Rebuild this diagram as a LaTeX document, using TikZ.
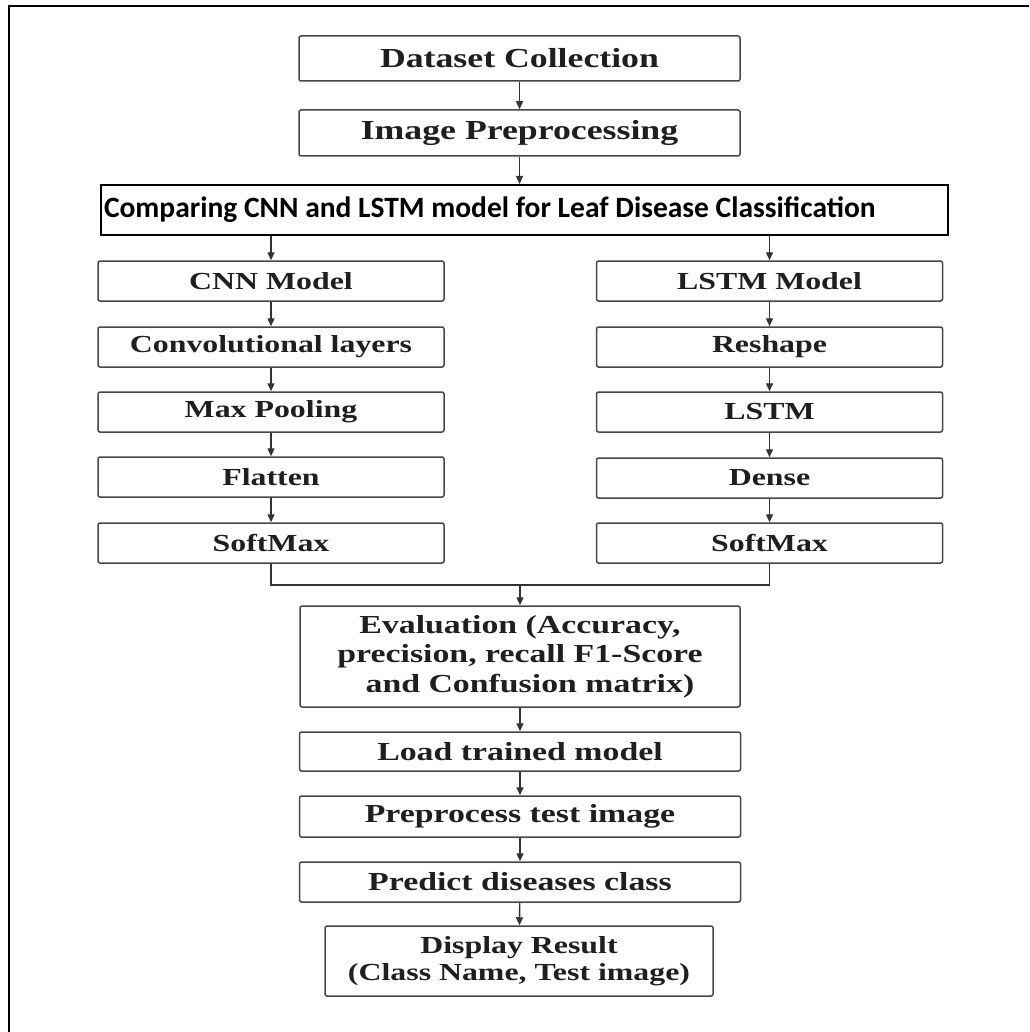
\documentclass[tikz,border=0pt]{standalone}
\usepackage{fontspec}
\setmainfont{Liberation Serif}[FakeStretch=1.3]
\newfontfamily\headfont{Carlito}
\usetikzlibrary{arrows.meta}

\begin{document}
\begin{tikzpicture}[x=1pt, y=-1pt,
  stepbox/.style={draw=black!72, line width=1.5pt, rounded corners=2pt, inner sep=0pt,
    align=center, text=black!88, font=\fontsize{26}{29.5}\selectfont\bfseries},
  widebox/.style={stepbox, minimum width=441pt, minimum height=40pt},
  colbox/.style={stepbox, minimum width=346pt, minimum height=40pt,
    font=\fontsize{24.5}{28}\selectfont\bfseries},
  flow/.style={draw=black!80, line width=1.4pt, -{Triangle[length=8pt, width=7pt]}}]
\useasboundingbox (0,0) rectangle (1029,1032);
\draw [line width=1.8pt] (9,1032) -- (9,6) -- (1029,6);

\node [widebox, minimum height=45pt, font=\fontsize{27.5}{31}\selectfont\bfseries]
  (dataset) at (519.5,58.5) {Dataset Collection};
\node [widebox, minimum height=46pt, font=\fontsize{27.5}{31}\selectfont\bfseries]
  (preproc) at (519.5,133) {Image Preprocessing};
\node [stepbox, draw=black, line width=2pt, sharp corners, minimum height=50pt,
  inner xsep=3pt, text width=841pt, align=flush left,
  font=\headfont\fontsize{29.5}{34}\selectfont\bfseries, text=black] (compare) at (524.5,210)
  {Comparing CNN and LSTM model for Leaf Disease Classification};

\node [colbox] (cnn) at (271,281) {CNN Model};
\node [colbox] (conv) at (271,347) {Convolutional layers};
\node [colbox] (pool) at (271,412) {Max Pooling};
\node [colbox] (flat) at (271,477) {Flatten};
\node [colbox] (smaxl) at (271,543) {SoftMax};

\node [colbox] (lstmm) at (769.5,281) {LSTM Model};
\node [colbox] (reshape) at (769.5,347) {Reshape};
\node [colbox] (lstm) at (769.5,412) {LSTM};
\node [colbox] (dense) at (769.5,478) {Dense};
\node [colbox] (smaxr) at (769.5,543) {SoftMax};

\node [widebox, minimum width=440pt, minimum height=101pt] (eval) at (520,656.5)
  {Evaluation (Accuracy,\\ precision, recall F1-Score\\ \hspace*{20pt}and Confusion matrix)};
\node [widebox, minimum height=39pt] (load) at (520,751.5) {Load trained model};
\node [widebox, minimum height=41pt] (ptest) at (520,816.5) {Preprocess test image};
\node [widebox] (predict) at (520,882) {Predict diseases class};
\node [stepbox, minimum width=388pt, minimum height=70pt, font=\fontsize{24.5}{27}\selectfont\bfseries]
  (display) at (519,961) {Display Result\\ (Class Name, Test image)};

\coordinate (join) at (520,585);

\draw [flow] (dataset) -- (preproc);
\draw [flow] (preproc) -- (preproc |- compare.north);
\draw [flow] (compare.south -| cnn) -- (cnn);
\draw [flow] (compare.south -| lstmm) -- (lstmm);
\foreach \a/\b in {cnn/conv, conv/pool, pool/flat, flat/smaxl,
  lstmm/reshape, reshape/lstm, lstm/dense, dense/smaxr,
  eval/load, load/ptest, ptest/predict, predict/display}
  \draw [flow] (\a) -- (\b);
\draw [draw=black!80, line width=1.4pt] (smaxl) -- (smaxl |- join) -- (smaxr |- join) -- (smaxr);
\draw [flow] (join) -- (eval);
\end{tikzpicture}
\end{document}
